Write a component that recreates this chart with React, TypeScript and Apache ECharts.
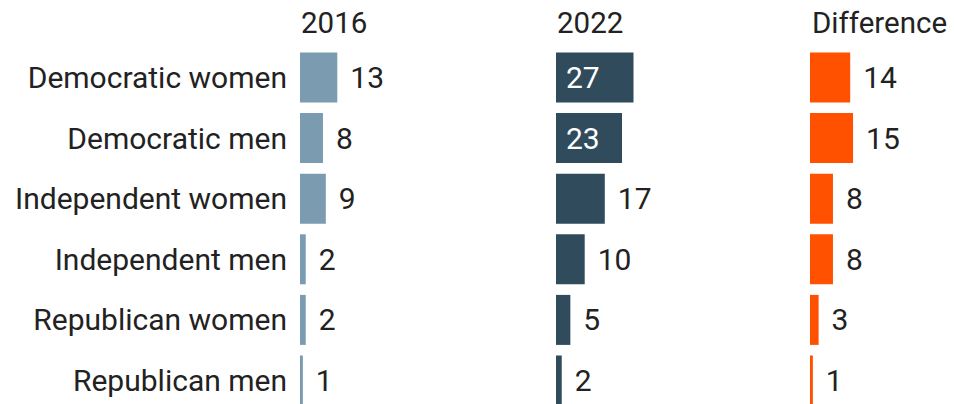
import React, { useEffect, useRef } from "react";
import * as echarts from "echarts";

const categories = [
  "Democratic women",
  "Democratic men",
  "Independent women",
  "Independent men",
  "Republican women",
  "Republican men",
];
const values2016 = [13, 8, 9, 2, 2, 1];
const values2022 = [27, 23, 17, 10, 5, 2];
const valuesDiff = [14, 15, 8, 8, 3, 1];
const panelTitles = ["2016", "2022", "Difference"];
const panelColors = ["#7b9bb1", "#2f4b5c", "#ff5100"];
const insideThreshold = 20;

const FONT = "Roboto";
const TEXT = "#222222";

export default function App() {
  const ref = useRef<HTMLDivElement>(null);
  useEffect(() => {
    if (!ref.current) return;
    const chart = echarts.init(ref.current, undefined, { renderer: "svg" });
    const lefts = [300, 556, 810];
    const titleLefts = [296, 552, 807];
    const allValues = [values2016, values2022, valuesDiff];
    const top = 47.2;
    const height = 363.6;
    const width = 86.1;
    const option: any = {
      animation: false,
      title: panelTitles.map((t, i) => ({
        text: t,
        left: titleLefts[i],
        top: 3,
        textStyle: { fontFamily: FONT, fontSize: 29.5, fontWeight: "normal", color: TEXT },
      })),
      grid: lefts.map((l) => ({ left: l, top, width, height })),
      xAxis: lefts.map((_, i) => ({
        type: "value",
        gridIndex: i,
        min: 0,
        max: 30,
        show: false,
      })),
      yAxis: lefts.map((_, i) => ({
        type: "category",
        gridIndex: i,
        data: categories,
        inverse: true,
        axisLine: { show: false },
        axisTick: { show: false },
        splitLine: { show: false },
        axisLabel: {
          show: i === 0,
          fontFamily: FONT,
          fontSize: 30,
          color: TEXT,
          margin: 13,
        },
      })),
      series: allValues.map((vals, i) => ({
        type: "bar",
        xAxisIndex: i,
        yAxisIndex: i,
        barWidth: 50,
        itemStyle: { color: panelColors[i] },
        data: vals.map((v) => {
          const inside = i === 1 && v >= insideThreshold;
          return {
            value: v,
            label: inside
              ? { show: true, position: "insideLeft", distance: 10, color: "#ffffff" }
              : { show: true, position: "right", distance: 13, color: TEXT },
          };
        }),
        label: { fontFamily: FONT, fontSize: 30 },
      })),
    };
    chart.setOption(option);
    return () => chart.dispose();
  }, []);
  return (
    <div
      style={{
        position: "fixed",
        left: 0,
        top: 0,
        width: 954,
        height: 404,
        overflow: "hidden",
        background: "#fff",
      }}
    >
      <div ref={ref} style={{ width: 954, height: 420 }} />
    </div>
  );
}
